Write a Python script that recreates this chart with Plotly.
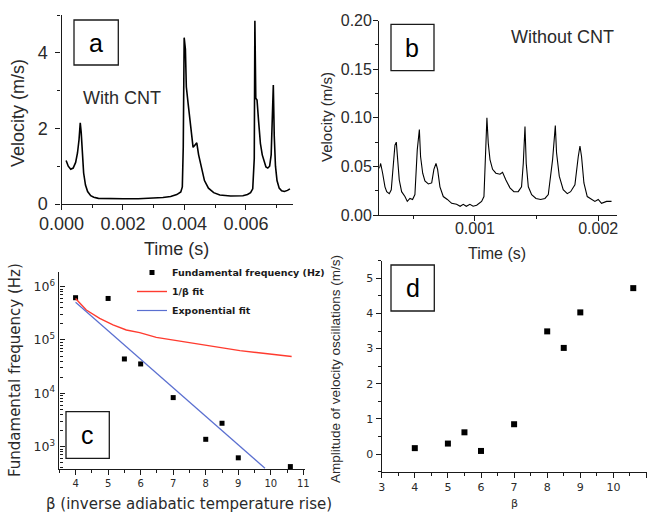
import plotly.graph_objects as go

# ---------------- data ----------------
# Panel a: velocity with CNT
time_a = [0.00015, 0.00022, 0.00030, 0.00038, 0.00046, 0.00052, 0.00057, 0.00061, 0.00064, 0.00068,
          0.00072, 0.00078, 0.00085, 0.00095, 0.00105, 0.00120, 0.00150, 0.00200, 0.00250, 0.00300,
          0.00330, 0.00355, 0.00375, 0.00388, 0.00393, 0.00396, 0.00399, 0.00403, 0.00406, 0.00412,
          0.00420, 0.00428, 0.00433, 0.00440, 0.00446, 0.00455, 0.00465, 0.00478, 0.00495, 0.00515,
          0.00550, 0.00590, 0.00605, 0.00615, 0.00622, 0.00627, 0.00629, 0.00632, 0.00636, 0.00641,
          0.00647, 0.00653, 0.00659, 0.00665, 0.00671, 0.00677, 0.00682, 0.00686, 0.00689, 0.00692,
          0.00696, 0.00701, 0.00708, 0.00716, 0.00725, 0.00735, 0.00743]
vel_a = [1.15, 1.00, 0.92, 0.95, 1.10, 1.35, 1.70, 2.15, 1.90, 1.30,
         0.82, 0.50, 0.33, 0.22, 0.18, 0.15, 0.14, 0.14, 0.14, 0.15,
         0.17, 0.20, 0.25, 0.32, 0.45, 1.50, 4.40, 4.10, 3.10, 2.65,
         2.00, 1.50, 1.55, 1.62, 1.30, 0.95, 0.62, 0.42, 0.30, 0.24,
         0.21, 0.22, 0.25, 0.30, 0.40, 1.20, 4.85, 2.80, 2.75, 2.20,
         1.60, 1.30, 1.10, 0.98, 0.95, 1.00, 1.30, 2.60, 3.15, 1.80,
         1.00, 0.62, 0.42, 0.35, 0.33, 0.36, 0.40]

# Panel b: velocity without CNT
time_b = [0.000224, 0.000235, 0.000251, 0.000270, 0.000284, 0.000305, 0.000321, 0.000338, 0.000351, 0.000362,
          0.000373, 0.000386, 0.000405, 0.000432, 0.000451, 0.000473, 0.000494, 0.000513, 0.000532, 0.000549,
          0.000559, 0.000576, 0.000594, 0.000622, 0.000649, 0.000667, 0.000684, 0.000697, 0.000716, 0.000743,
          0.000776, 0.000811, 0.000851, 0.000880, 0.000905, 0.000930, 0.000959, 0.000985, 0.001014, 0.001054,
          0.001073, 0.001084, 0.001097, 0.001108, 0.001122, 0.001143, 0.001170, 0.001203, 0.001224, 0.001251,
          0.001284, 0.001316, 0.001351, 0.001378, 0.001392, 0.001406, 0.001416, 0.001433, 0.001460, 0.001495,
          0.001533, 0.001568, 0.001595, 0.001630, 0.001652, 0.001662, 0.001684, 0.001716, 0.001749, 0.001776,
          0.001811, 0.001838, 0.001852, 0.001865, 0.001884, 0.001911, 0.001946, 0.001973, 0.002000, 0.002027,
          0.002068, 0.002108]
vel_b = [0.048, 0.053, 0.043, 0.029, 0.024, 0.022, 0.026, 0.050, 0.072, 0.075,
         0.060, 0.036, 0.024, 0.019, 0.014, 0.017, 0.016, 0.021, 0.067, 0.088,
         0.060, 0.043, 0.035, 0.032, 0.033, 0.047, 0.053, 0.047, 0.029, 0.019,
         0.016, 0.012, 0.011, 0.009, 0.011, 0.009, 0.011, 0.009, 0.010, 0.014,
         0.019, 0.067, 0.100, 0.074, 0.057, 0.047, 0.043, 0.042, 0.044, 0.036,
         0.028, 0.024, 0.024, 0.029, 0.053, 0.091, 0.053, 0.029, 0.021, 0.017,
         0.016, 0.017, 0.021, 0.057, 0.092, 0.064, 0.040, 0.026, 0.022, 0.024,
         0.031, 0.060, 0.071, 0.060, 0.033, 0.019, 0.016, 0.014, 0.016, 0.012,
         0.014, 0.014]

# Panel c: fundamental frequency vs beta
beta_c = [4, 5, 5.5, 6, 7, 8, 8.5, 9, 10.6]
freq_c = [6.2e5, 6.0e5, 4.4e4, 3.55e4, 8.3e3, 1.37e3, 2.74e3, 616, 422]
beta_inv_fit = [4.0, 4.33, 4.74, 5.15, 5.56, 5.97, 6.48, 7.0, 7.51, 8.02, 8.53, 9.05, 9.56, 10.07, 10.64]
freq_inv_fit = [6.0e5, 3.65e5, 2.55e5, 1.91e5, 1.54e5, 1.37e5, 1.12e5, 1.0e5, 8.7e4, 7.8e4, 7.0e4,
                6.3e4, 5.8e4, 5.4e4, 4.9e4]
beta_exp_fit = [4.0, 9.82]
freq_exp_fit = [5.1e5, 393]

# Panel d: amplitude of velocity oscillations vs beta
beta_d = [4, 5, 5.5, 6, 7, 8, 8.5, 9, 10.6]
amp_d = [0.17, 0.30, 0.62, 0.09, 0.85, 3.49, 3.02, 4.03, 4.72]

assert len(time_a) == len(vel_a)
assert len(time_b) == len(vel_b)

# ---------------- figure ----------------
W, H = 652, 512


def fx(px):
    return px / W


def fy(py):
    return 1 - py / H


ARIAL = "Liberation Sans, Arial, sans-serif"
DEJA = "DejaVu Sans, sans-serif"
INK = "#1a1a1a"

fig = go.Figure()

fig.add_trace(go.Scatter(x=time_a, y=vel_a, mode="lines", line=dict(color="black", width=1.6),
                         xaxis="x", yaxis="y", showlegend=False))
fig.add_trace(go.Scatter(x=time_b, y=vel_b, mode="lines", line=dict(color="black", width=1.1),
                         xaxis="x2", yaxis="y2", showlegend=False))
fig.add_trace(go.Scatter(x=beta_c, y=freq_c, mode="markers", name="Fundamental frequency (Hz)",
                         marker=dict(symbol="square", size=5, color="black"), cliponaxis=False,
                         xaxis="x3", yaxis="y3"))
fig.add_trace(go.Scatter(x=beta_inv_fit, y=freq_inv_fit, mode="lines", name="1/β fit",
                         line=dict(color="#ff3b2f", width=1.4), xaxis="x3", yaxis="y3"))
fig.add_trace(go.Scatter(x=beta_exp_fit, y=freq_exp_fit, mode="lines", name="Exponential fit",
                         line=dict(color="#5a6fd0", width=1.2), xaxis="x3", yaxis="y3"))
fig.add_trace(go.Scatter(x=beta_d, y=amp_d, mode="markers",
                         marker=dict(symbol="square", size=6, color="black"), cliponaxis=False,
                         xaxis="x4", yaxis="y4", showlegend=False))


def axis(domain, rng, anchor, dtick, mdtick, size, family=ARIAL, ticks="outside", mticks="outside",
         fmt=None, typ="linear", tick0=None, standoff=0):
    d = dict(domain=domain, range=rng, anchor=anchor, showline=True, linewidth=1.4, linecolor=INK,
             showgrid=False, zeroline=False, ticks=ticks, ticklen=5, tickwidth=1.2, tickcolor=INK,
             automargin=False, ticklabelstandoff=standoff,
             dtick=dtick, tickfont=dict(family=family, size=size, color="#2a2a2a"), type=typ,
             minor=dict(dtick=mdtick, ticks=mticks, ticklen=3, tickwidth=1, tickcolor=INK, showgrid=False))
    if fmt:
        d["tickformat"] = fmt
    if tick0 is not None:
        d["tick0"] = tick0
    if typ == "log":
        d["exponentformat"] = "power"
    return d


fig.update_layout(
    template="none",
    width=W, height=H, margin=dict(l=0, r=0, t=0, b=0, autoexpand=False),
    paper_bgcolor="white", plot_bgcolor="white",
    xaxis=axis([fx(61.5), fx(293)], [0, 0.00753], "y", 0.002, 0.001, 18, fmt=".3f", tick0=0, standoff=-2),
    yaxis=axis([fy(204), fy(15)], [0, 5.0], "x", 2, 1, 18, tick0=0, standoff=4),
    xaxis2=axis([fx(379.3), fx(616.7)], [0.000224, 0.00215], "y2", 0.001, 0.0005, 16, fmt=".3f", tick0=0,
                standoff=-6),
    yaxis2=axis([fy(215), fy(20.7)], [0, 0.2], "x2", 0.05, 0.025, 16, fmt=".2f", tick0=0, standoff=-2),
    xaxis3=axis([fx(59.3), fx(305)], [3.5, 11.05], "y3", 1, 0.5, 10, family=DEJA, tick0=0),
    yaxis3=axis([fy(469), fy(271.7)], [2.58, 6.28], "x3", 1, "D1", 10, family=DEJA, ticks="inside",
                mticks="inside", typ="log", standoff=1),
    xaxis4=axis([fx(381.7), fx(646.5)], [3, 11], "y4", 1, 0.5, 11, family=DEJA, tick0=0),
    yaxis4=axis([fy(471.7), fy(260.7)], [-0.5, 5.5], "x4", 1, 0.5, 11, family=DEJA, tick0=0),
    legend=dict(x=fx(132), y=fy(258), xanchor="left", yanchor="top", bgcolor="rgba(0,0,0,0)",
                font=dict(family=DEJA, size=9.5, color="#1a1a1a", weight="bold"),
                itemwidth=30, tracegroupgap=0),
    showlegend=True,
)

# label boxes
boxes = [("a", 74, 20, 118.3, 65), ("b", 391, 24.3, 434, 70.7),
         ("c", 66, 411.7, 109.3, 458.3), ("d", 391, 265, 434.3, 311)]
for letter, x0, y0, x1, y1 in boxes:
    fig.add_shape(type="rect", xref="paper", yref="paper", x0=fx(x0), x1=fx(x1), y0=fy(y1), y1=fy(y0),
                  line=dict(color=INK, width=1.3), fillcolor="white", layer="above")
    fig.add_annotation(text=letter, xref="paper", yref="paper", x=fx((x0 + x1) / 2), y=fy((y0 + y1) / 2),
                       showarrow=False, font=dict(family=ARIAL, size=25, color="black"),
                       xanchor="center", yanchor="middle")


def label(text, px, py, size, family=ARIAL, angle=0):
    fig.add_annotation(text=text, xref="paper", yref="paper", x=fx(px), y=fy(py), showarrow=False,
                       font=dict(family=family, size=size, color="#2a2a2a"), textangle=angle,
                       xanchor="center", yanchor="middle")


label("With CNT", 121.7, 98.3, 18)
label("Without CNT", 562.5, 36.7, 18)
label("Velocity (m/s)", 18, 113, 18, angle=-90)
label("Time (s)", 176, 249, 18)
label("Velocity (m/s)", 326, 117, 15, angle=-90)
label("Time (s)", 497, 253, 16)
label("Fundamental frequency (Hz)", 15, 370, 15, family=DEJA, angle=-90)
label("β (inverse adiabatic temperature rise)", 189, 504, 15, family=DEJA)
label("Amplitude of velocity oscillations (m/s)", 335, 369, 13.5, angle=-90)
label("β", 514, 503, 11, family=DEJA)

fig.write_html("out.html", config={"displayModeBar": False},
               post_script="document.body.style.margin='0px';document.body.style.overflow='hidden';")
